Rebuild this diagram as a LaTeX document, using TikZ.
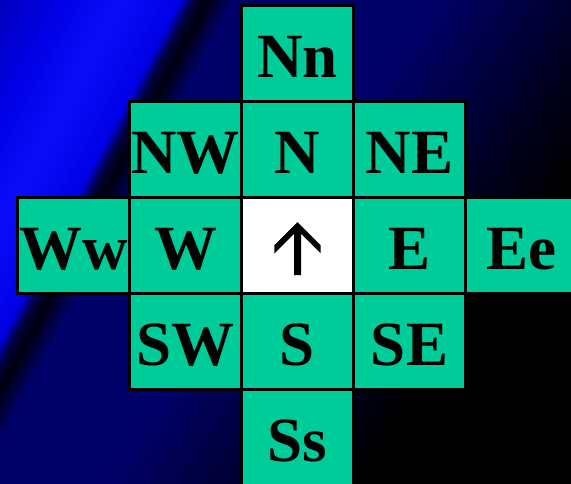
\documentclass[tikz,border=0pt]{standalone}
\usepackage{fontspec}
\setmainfont{Liberation Serif}
\definecolor{cellteal}{RGB}{0,204,153}
\definecolor{bgnavy}{RGB}{0,0,105}
\definecolor{bgmid}{RGB}{0,0,160}
\definecolor{bgdark}{RGB}{0,0,15}
\definecolor{bgedge}{RGB}{0,0,60}
\definecolor{streaklo}{RGB}{0,0,190}
\definecolor{streakhi}{RGB}{0,0,230}
\definecolor{streakpeak}{RGB}{12,12,250}
\pgfdeclarehorizontalshading{bgstreak}{1600bp}{color(0bp)=(bgmid); color(150bp)=(bgmid); color(225bp)=(streaklo); color(280bp)=(streakhi); color(330bp)=(streakpeak); color(383bp)=(streakhi); color(395bp)=(bgedge); color(407bp)=(bgdark); color(430bp)=(bgnavy); color(1200bp)=(bgnavy)}
\begin{document}
\begin{tikzpicture}[x=1pt, y=-1pt,
  cell/.style={draw=black, line width=2.5pt, fill=cellteal, minimum width=112pt, minimum height=96pt,
    inner sep=0pt, text height=48pt, text depth=0pt, font=\fontsize{63}{70}\selectfont\bfseries}]
\useasboundingbox (0,0) rectangle (571,483);
% Background
\begin{scope}
\clip (0,0) rectangle (571,483);
\node[inner sep=0pt, rotate=-27.9] (streak) at (376.8,93.6) {\pgfuseshading{bgstreak}};
\foreach \t [evaluate=\t as \op using (\t-355)/205] in {360,370,...,550}
  \fill[black, opacity=\op] ({\t*0.825+509.4},{\t*0.566-742.5}) -- ({(\t+10)*0.825+509.4},{(\t+10)*0.566-742.5})
    -- ({(\t+10)*0.825-509.4},{(\t+10)*0.566+742.5}) -- ({\t*0.825-509.4},{\t*0.566+742.5}) -- cycle;
\fill[black] ({560*0.825+509.4},{560*0.566-742.5}) -- ({1000*0.825+509.4},{1000*0.566-742.5})
  -- ({1000*0.825-509.4},{1000*0.566+742.5}) -- ({560*0.825-509.4},{560*0.566+742.5}) -- cycle;
\end{scope}
% Cells
\node[cell] (Nn) at (297.5,53.5) {Nn};
\node[cell] (NW) at (185.5,149.5) {NW};
\node[cell] (N) at (297.5,149.5) {N};
\node[cell] (NE) at (409.5,149.5) {NE};
\node[cell] (Ww) at (73.5,245.5) {Ww};
\node[cell] (W) at (185.5,245.5) {W};
\node[cell, fill=white] (here) at (297.5,245.5) {};
\node[cell] (E) at (409.5,245.5) {E};
\node[cell] (Ee) at (521.5,245.5) {Ee};
\node[cell] (SW) at (185.5,341.5) {SW};
\node[cell] (S) at (297.5,341.5) {S};
\node[cell] (SE) at (409.5,341.5) {SE};
\node[cell] (Ss) at (297.5,437.5) {Ss};
% Heading arrow
\fill[black] (297.5,222.1) -- (320.7,245.3) -- (320.7,253.3) -- (301,233.6) -- (301,275)
  -- (294.2,275) -- (294.2,233.6) -- (274.3,253.5) -- (274.3,245.3) -- cycle;
\end{tikzpicture}
\end{document}
